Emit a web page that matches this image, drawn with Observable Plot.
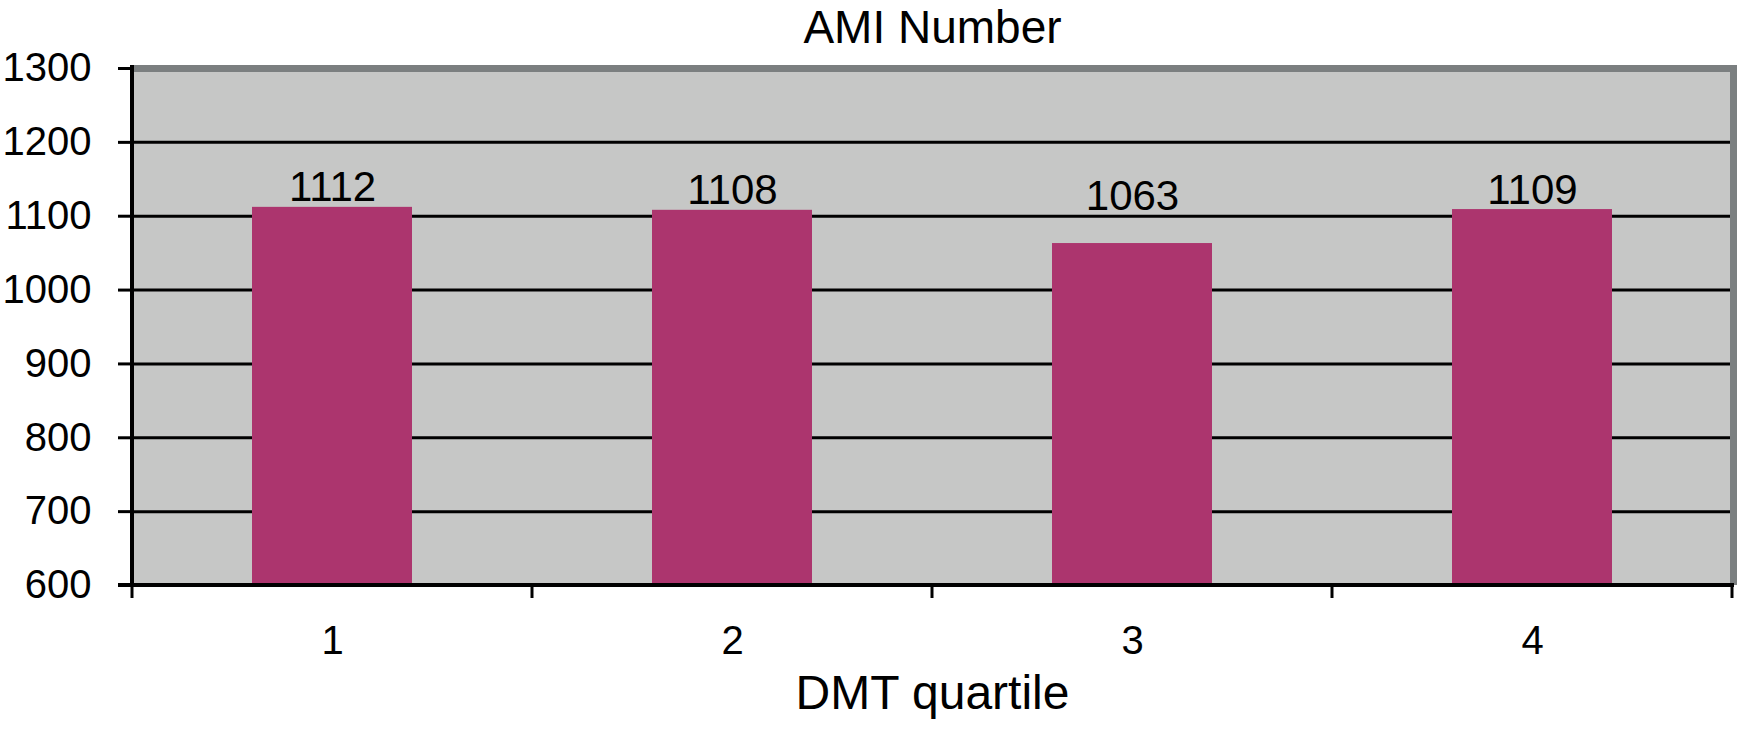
<!DOCTYPE html>
<html>
<head>
<meta charset="utf-8">
<script src="https://cdn.jsdelivr.net/npm/d3@7"></script>
<script src="https://cdn.jsdelivr.net/npm/@observablehq/plot@0.6"></script>
<style>
  html, body { margin: 0; padding: 0; background: #ffffff; }
  #chart svg { display: block; }
</style>
</head>
<body>
<div id="chart"></div>
<script>
// ---- Data ----
const quartiles = ["1", "2", "3", "4"];
const amiNumbers = [1112, 1108, 1063, 1109];
const yDomain = [600, 1300];
const yTicks = [600, 700, 800, 900, 1000, 1100, 1200, 1300];
const gridTicks = [700, 800, 900, 1000, 1100, 1200];
const chartTitle = "AMI Number";
const xTitle = "DMT quartile";

const data = quartiles.map((q, i) => ({quartile: q, value: amiNumbers[i]}));

// data labels are lifted above a gridline they would otherwise cross (as the spreadsheet did)
const labelSpan = 40; // approx. label height in value units
const labelAnchor = v => {
  const hit = gridTicks.find(t => t > v && t < v + labelSpan);
  return hit !== undefined ? hit : v;
};

const FONT = "'Liberation Sans', Arial, Helvetica, sans-serif";
const plotBg = "#c6c7c6";
const borderGray = "#7b7f80";
const barColor = "#ac356e";

// structural lines: gray top/right border, black left/bottom axes, x boundary ticks
function frameLines(index, scales, values, dimensions) {
  const {width, height, marginLeft, marginRight, marginTop, marginBottom} = dimensions;
  const left = marginLeft, right = width - marginRight;
  const top = marginTop, bottom = height - marginBottom;
  const g = d3.create("svg:g");
  g.append("line").attr("x1", left).attr("x2", right + 5).attr("y1", top + 0.5).attr("y2", top + 0.5)
    .attr("stroke", borderGray).attr("stroke-width", 7);
  g.append("line").attr("x1", right + 1.5).attr("x2", right + 1.5).attr("y1", top - 3).attr("y2", bottom)
    .attr("stroke", borderGray).attr("stroke-width", 7);
  g.append("line").attr("x1", left).attr("x2", left).attr("y1", top - 3).attr("y2", bottom + 2)
    .attr("stroke", "#000").attr("stroke-width", 4);
  g.append("line").attr("x1", left - 14).attr("x2", right + 2).attr("y1", bottom).attr("y2", bottom)
    .attr("stroke", "#000").attr("stroke-width", 4);
  const n = quartiles.length;
  for (let i = 0; i <= n; i++) {
    const x = left + i * (right - left) / n;
    g.append("line").attr("x1", x).attr("x2", x).attr("y1", bottom).attr("y2", bottom + 13)
      .attr("stroke", "#000").attr("stroke-width", 3);
  }
  return g.node();
}

const chart = Plot.plot({
  width: 1738,
  height: 732,
  marginLeft: 132,
  marginRight: 6,
  marginTop: 68,
  marginBottom: 147,
  style: {fontFamily: FONT, fontSize: "40px", color: "#000", background: "#fff", overflow: "visible"},
  x: {domain: quartiles, paddingInner: 0.6, paddingOuter: 0.3, align: 0.5, axis: null},
  y: {domain: yDomain, axis: null},
  marks: [
    Plot.frame({fill: plotBg, stroke: null}),
    Plot.ruleY(gridTicks, {stroke: "#000", strokeWidth: 3}),
    Plot.barY(data, {x: "quartile", y1: yDomain[0], y2: "value", fill: barColor}),
    frameLines,
    Plot.axisY(yTicks, {
      anchor: "left", tickSize: 14, tickPadding: 27, strokeWidth: 3, stroke: "#000",
      fontSize: 40, fill: "#000", label: null, tickFormat: d => String(d)
    }),
    Plot.axisX({
      anchor: "bottom", tickSize: 0, tickPadding: 40, fontSize: 40, fill: "#000", label: null
    }),
    Plot.text(data, {
      x: "quartile", y: d => labelAnchor(d.value), text: d => String(d.value),
      lineAnchor: "bottom", dy: -6, fontSize: 42, fill: "#000"
    }),
    Plot.text([chartTitle], {
      frameAnchor: "top", text: d => d, lineAnchor: "bottom", dy: -26, fontSize: 46, fill: "#000"
    }),
    Plot.text([xTitle], {
      frameAnchor: "bottom", text: d => d, lineAnchor: "bottom", dy: 123, fontSize: 48, fill: "#000"
    })
  ]
});

document.getElementById("chart").appendChild(chart);
</script>
</body>
</html>
